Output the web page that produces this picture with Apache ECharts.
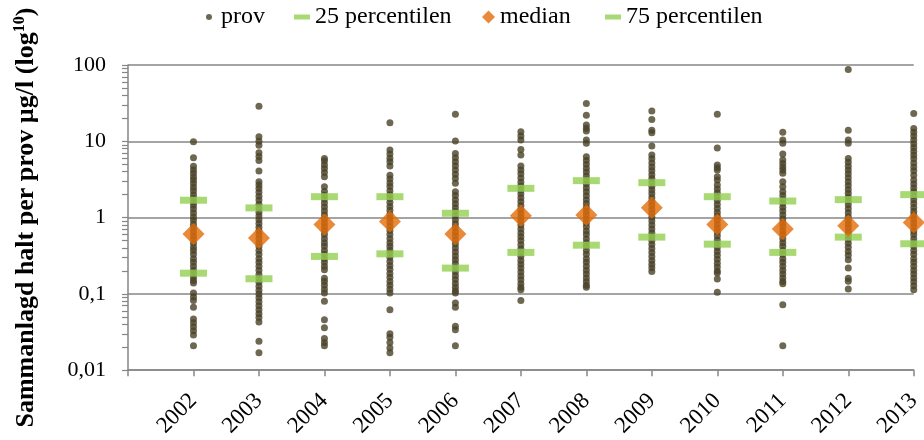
<!DOCTYPE html>
<html>
<head>
<meta charset="utf-8">
<script src="https://cdn.jsdelivr.net/npm/echarts@6/dist/echarts.min.js"></script>
<style>
  html, body { margin: 0; padding: 0; background: #fff; }
  #chart { width: 924px; height: 440px; }
</style>
</head>
<body>
<div id="chart"></div>
<script>
// Sample concentrations per year (µg/l)
const years = [2002, 2003, 2004, 2005, 2006, 2007, 2008, 2009, 2010, 2011, 2012, 2013];

const prov2002 = [9.85, 6.1, 4.7, 4.2, 3.8, 3.4, 3.1, 2.8, 2.5, 2.25, 2.0, 1.8, 1.6, 1.45, 1.3, 1.15, 1.02, 0.92, 0.82, 0.73, 0.65, 0.58, 0.52, 0.46, 0.41, 0.37, 0.33, 0.29, 0.26, 0.23, 0.205, 0.185, 0.165, 0.15, 0.139, 0.103, 0.091, 0.082, 0.067, 0.047, 0.042, 0.037, 0.033, 0.029, 0.021];
const prov2003 = [28.9, 11.5, 10, 8.9, 7.1, 6.3, 5.6, 4.07, 2.95, 2.67, 2.4, 2.15, 1.9, 1.7, 1.5, 1.33, 1.18, 1.05, 0.94, 0.84, 0.75, 0.67, 0.6, 0.53, 0.47, 0.42, 0.37, 0.33, 0.29, 0.26, 0.23, 0.205, 0.18, 0.16, 0.142, 0.126, 0.112, 0.1, 0.089, 0.079, 0.07, 0.062, 0.055, 0.049, 0.043, 0.024, 0.017];
const prov2004 = [5.97, 5.5, 4.9, 4.4, 3.9, 3.43, 2.54, 2.2, 1.95, 1.75, 1.55, 1.38, 1.22, 1.08, 0.96, 0.85, 0.76, 0.68, 0.6, 0.53, 0.47, 0.42, 0.37, 0.33, 0.29, 0.26, 0.23, 0.207, 0.161, 0.145, 0.13, 0.115, 0.103, 0.08, 0.046, 0.036, 0.026, 0.023, 0.021];
const prov2005 = [17.5, 7.7, 6.8, 6.0, 5.4, 4.75, 3.6, 3.2, 2.85, 2.55, 2.25, 2.0, 1.78, 1.58, 1.4, 1.25, 1.1, 0.98, 0.87, 0.77, 0.68, 0.6, 0.53, 0.47, 0.42, 0.375, 0.34, 0.3, 0.265, 0.235, 0.21, 0.185, 0.165, 0.145, 0.13, 0.115, 0.103, 0.062, 0.03, 0.027, 0.023, 0.0195, 0.017];
const prov2006 = [22.7, 10.1, 6.9, 6.1, 5.4, 4.8, 4.2, 3.7, 3.25, 2.82, 2.19, 1.95, 1.72, 1.52, 1.35, 1.2, 1.06, 0.94, 0.83, 0.74, 0.65, 0.58, 0.51, 0.45, 0.4, 0.355, 0.315, 0.28, 0.25, 0.22, 0.195, 0.173, 0.154, 0.137, 0.122, 0.11, 0.103, 0.076, 0.067, 0.0376, 0.034, 0.021];
const prov2007 = [13.3, 11.7, 10.4, 7.8, 6.6, 4.75, 4.2, 3.75, 3.3, 2.9, 2.6, 2.3, 2.05, 1.82, 1.62, 1.44, 1.28, 1.14, 1.01, 0.9, 0.8, 0.71, 0.63, 0.56, 0.5, 0.44, 0.39, 0.35, 0.31, 0.275, 0.245, 0.218, 0.194, 0.172, 0.153, 0.136, 0.122, 0.113, 0.082];
const prov2008 = [31.3, 22.0, 16.3, 14.8, 13.6, 10.4, 9.4, 6.28, 5.6, 5.0, 4.45, 3.95, 3.5, 3.1, 2.75, 2.45, 2.18, 1.94, 1.72, 1.53, 1.36, 1.21, 1.08, 0.96, 0.85, 0.76, 0.67, 0.6, 0.53, 0.47, 0.42, 0.37, 0.33, 0.29, 0.26, 0.23, 0.205, 0.182, 0.162, 0.144, 0.13, 0.122];
const prov2009 = [25.0, 19.3, 14.0, 12.9, 8.66, 6.6, 5.9, 5.2, 4.6, 4.1, 3.65, 3.25, 2.9, 2.58, 2.3, 2.05, 1.82, 1.62, 1.44, 1.28, 1.14, 1.01, 0.9, 0.8, 0.71, 0.63, 0.56, 0.5, 0.445, 0.395, 0.35, 0.31, 0.275, 0.245, 0.22, 0.197];
const prov2010 = [22.7, 8.2, 4.9, 4.5, 4.2, 3.43, 3.1, 2.67, 2.38, 2.12, 1.88, 1.67, 1.48, 1.32, 1.17, 1.04, 0.92, 0.82, 0.73, 0.65, 0.58, 0.51, 0.455, 0.405, 0.36, 0.32, 0.285, 0.253, 0.225, 0.2, 0.188, 0.157, 0.105];
const prov2011 = [13.1, 10.4, 9.4, 6.8, 5.7, 5.1, 4.6, 4.2, 3.8, 2.95, 2.54, 2.19, 1.95, 1.73, 1.54, 1.37, 1.22, 1.08, 0.96, 0.85, 0.76, 0.67, 0.6, 0.53, 0.47, 0.42, 0.37, 0.33, 0.29, 0.26, 0.23, 0.205, 0.182, 0.162, 0.145, 0.136, 0.072, 0.021];
const prov2012 = [87, 14.0, 10.4, 9.4, 5.97, 5.3, 4.7, 4.2, 3.75, 3.33, 2.96, 2.63, 2.34, 2.08, 1.85, 1.65, 1.47, 1.31, 1.16, 1.03, 0.92, 0.82, 0.73, 0.65, 0.58, 0.52, 0.46, 0.41, 0.36, 0.32, 0.28, 0.218, 0.161, 0.146, 0.116];
const prov2013 = [23.1, 14.7, 13.1, 11.7, 10.4, 9.3, 8.3, 7.4, 6.6, 5.9, 5.2, 4.6, 4.1, 3.6, 3.1, 2.75, 2.45, 2.18, 1.94, 1.72, 1.53, 1.36, 1.21, 1.08, 0.96, 0.85, 0.76, 0.67, 0.6, 0.53, 0.47, 0.42, 0.37, 0.33, 0.29, 0.26, 0.23, 0.205, 0.182, 0.162, 0.144, 0.128, 0.113];

const provByYear = [prov2002, prov2003, prov2004, prov2005, prov2006, prov2007, prov2008, prov2009, prov2010, prov2011, prov2012, prov2013];

// Yearly statistics
const p25 = [0.187, 0.158, 0.31, 0.335, 0.218, 0.35, 0.435, 0.555, 0.449, 0.35, 0.555, 0.454];
const median = [0.61, 0.54, 0.81, 0.89, 0.61, 1.06, 1.08, 1.35, 0.81, 0.71, 0.78, 0.86];
const p75 = [1.69, 1.34, 1.88, 1.88, 1.14, 2.42, 3.05, 2.87, 1.88, 1.65, 1.72, 2.0];

// Tick positions on the logarithmic axis (decades plus 2..9 within each)
const yTicks = [0.01, 0.02, 0.03, 0.04, 0.05, 0.06, 0.07, 0.08, 0.09,
                0.1, 0.2, 0.3, 0.4, 0.5, 0.6, 0.7, 0.8, 0.9,
                1, 2, 3, 4, 5, 6, 7, 8, 9,
                10, 20, 30, 40, 50, 60, 70, 80, 90, 100];

const FONT = 'Liberation Serif';
const GRAY = '#868686';
const DOT = '#4A4228';
const GREEN = '#92D050';
const ORANGE = '#E36C09';

const provPoints = [];
years.forEach((y, i) => provByYear[i].forEach(v => provPoints.push([y, v])));
const pairs = arr => years.map((y, i) => [y, arr[i]]);

const legendText = { fontFamily: FONT, fontSize: 24, color: '#000' };

const chart = echarts.init(document.getElementById('chart'));
chart.setOption({
  animation: false,
  backgroundColor: '#fff',
  grid: { left: 128, right: 5, top: 65, bottom: 69, containLabel: false },
  legend: [
    { data: ['prov'], left: 201, top: 0, itemWidth: 14, itemHeight: 6, textStyle: legendText, selectedMode: false },
    { data: ['25 percentilen'], left: 289, top: 0, itemWidth: 16, itemHeight: 5, textStyle: legendText, selectedMode: false },
    { data: ['median'], left: 477, top: 0, itemWidth: 13, itemHeight: 13, textStyle: legendText, selectedMode: false },
    { data: ['75 percentilen'], left: 600, top: 0, itemWidth: 16, itemHeight: 5, textStyle: legendText, selectedMode: false }
  ],
  xAxis: {
    type: 'value',
    min: 2001,
    max: 2013,
    interval: 1,
    splitLine: { show: false },
    axisLine: { lineStyle: { color: GRAY, width: 1.5 } },
    axisTick: { length: 6, lineStyle: { color: GRAY, width: 1.5 } },
    axisLabel: {
      rotate: 45,
      margin: 27,
      fontFamily: FONT,
      fontSize: 23,
      color: '#000',
      formatter: v => (v === 2001 ? '' : String(v))
    }
  },
  yAxis: [
    {
      type: 'log',
      logBase: 10,
      min: 0.01,
      max: 100,
      name: 'Sammanlagd halt per prov µg/l (log{sup|10})',
      nameLocation: 'middle',
      nameGap: 88,
      nameTextStyle: {
        fontFamily: FONT,
        fontSize: 26,
        fontWeight: 'bold',
        color: '#000',
        rich: { sup: { fontFamily: FONT, fontSize: 16, fontWeight: 'bold', verticalAlign: 'top', padding: [0, 0, 12, 0] } }
      },
      axisLine: { show: true, lineStyle: { color: GRAY, width: 1.5 } },
      axisTick: { show: false },
      splitLine: { show: true, lineStyle: { color: GRAY, width: 1.5 } },
      axisLabel: {
        margin: 22,
        fontFamily: FONT,
        fontSize: 22,
        color: '#000',
        formatter: v => String(+v.toPrecision(6)).replace('.', ',')
      }
    },
    {
      type: 'log',
      logBase: 10,
      min: 0.01,
      max: 100,
      position: 'left',
      axisLine: { show: false },
      splitLine: { show: false },
      axisLabel: { show: false },
      axisTick: { show: true, length: 6, customValues: yTicks, lineStyle: { color: GRAY, width: 1.2 } }
    }
  ],
  series: [
    {
      name: 'prov',
      type: 'scatter',
      clip: false,
      symbol: 'circle',
      symbolSize: 7,
      itemStyle: { color: DOT },
      data: provPoints
    },
    {
      name: '25 percentilen',
      type: 'scatter',
      clip: false,
      symbol: 'rect',
      symbolSize: [27, 7],
      itemStyle: { color: GREEN },
      data: pairs(p25)
    },
    {
      name: 'median',
      type: 'scatter',
      clip: false,
      symbol: 'diamond',
      symbolSize: [22, 22],
      itemStyle: { color: ORANGE },
      data: pairs(median)
    },
    {
      name: '75 percentilen',
      type: 'scatter',
      clip: false,
      symbol: 'rect',
      symbolSize: [27, 7],
      itemStyle: { color: GREEN },
      data: pairs(p75)
    }
  ]
});
</script>
</body>
</html>
